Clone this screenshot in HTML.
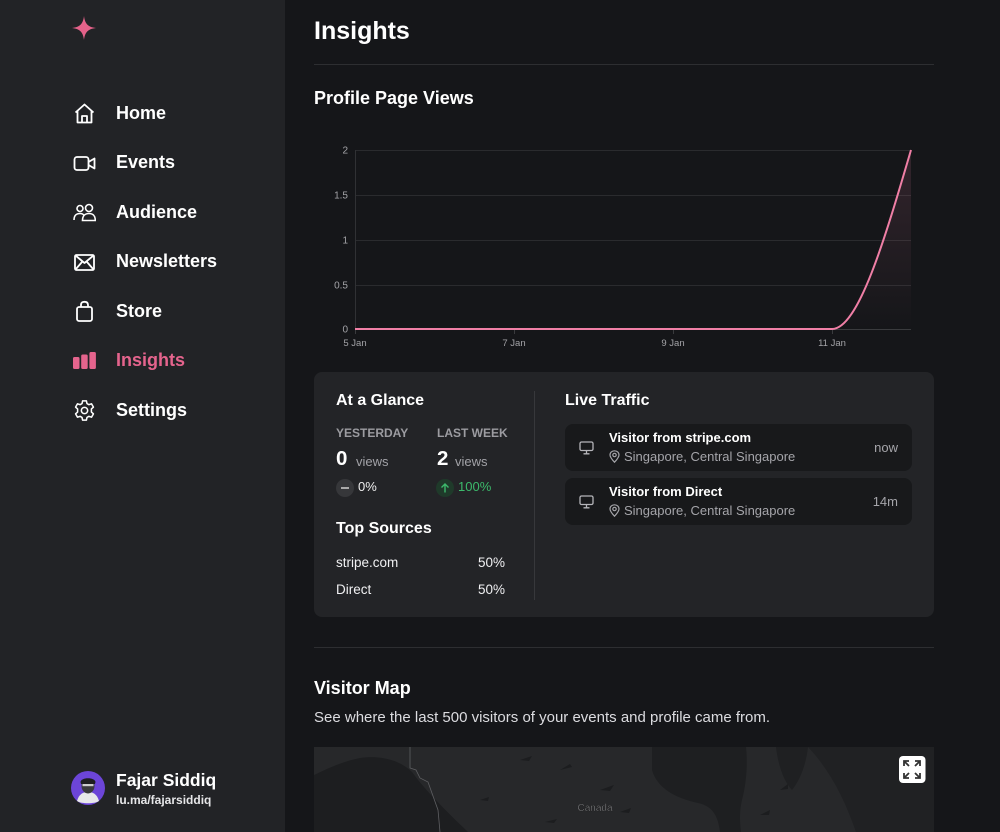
<!DOCTYPE html>
<html><head><meta charset="utf-8">
<style>
*{margin:0;padding:0;box-sizing:border-box}
html,body{width:1000px;height:832px;overflow:hidden;background:#151619;font-family:"Liberation Sans",sans-serif;color:#fff}
.a{position:absolute;white-space:nowrap;line-height:1.2}
#side{position:absolute;left:0;top:0;width:285px;height:832px;background:#222326}
.nav{position:absolute;left:116px;font-size:18px;font-weight:700;color:#fff;line-height:1.2}
.ic{position:absolute;left:73px;width:23px;height:23px}
.b{font-weight:700}
.g{color:#a2a2a7}
</style></head><body>
<div id="side">
  <svg style="position:absolute;left:72px;top:16px" width="24" height="24" viewBox="0 0 24 24"><path d="M12 0 C13 8 16 11 24 12 C16 13 13 16 12 24 C11 16 8 13 0 12 C8 11 11 8 12 0Z" fill="#e5628a"/></svg>

  <svg class="ic" style="top:102px" viewBox="0 0 23 23" fill="none" stroke="#fff" stroke-width="1.8" stroke-linejoin="round"><path d="M2.5 10.5 L11.5 2.5 L20.5 10.5 M4.5 9 V20.5 H18.5 V9 M9 20.5 V14 H14 V20.5"/></svg>
  <div class="nav" style="top:103px">Home</div>

  <svg class="ic" style="top:152px" viewBox="0 0 23 23" fill="none" stroke="#fff" stroke-width="1.8" stroke-linejoin="round"><rect x="1.5" y="5" width="14" height="13" rx="2.5"/><path d="M15.5 10 L21.5 6.5 V16.5 L15.5 13"/></svg>
  <div class="nav" style="top:152px">Events</div>

  <svg class="ic" style="top:201px" viewBox="0 0 23 23" fill="none" stroke="#fff" stroke-width="1.6"><circle cx="7" cy="7.5" r="3"/><circle cx="16" cy="7" r="3.5"/><path d="M1 19 C1 14 4 12.5 7 12.5 C9 12.5 10.5 13.5 11 14.5 M9.5 19.5 C9.5 14.5 12.5 12.5 16 12.5 C19.5 12.5 22.3 14.5 22.3 19.5 Z"/></svg>
  <div class="nav" style="top:202px">Audience</div>

  <svg class="ic" style="top:251px" viewBox="0 0 23 23" fill="none" stroke="#fff" stroke-width="1.8" stroke-linejoin="round"><rect x="2" y="4" width="19" height="15" rx="1.5"/><path d="M2.5 4.5 L11.5 12 L20.5 4.5 M2.5 18.5 L9 11 M20.5 18.5 L14 11"/></svg>
  <div class="nav" style="top:251px">Newsletters</div>

  <svg class="ic" style="top:300px" viewBox="0 0 23 23" fill="none" stroke="#fff" stroke-width="1.8" stroke-linejoin="round"><rect x="4" y="7" width="15" height="14" rx="2"/><path d="M8 7 V5 C8 2.5 9.5 1.8 11.5 1.8 C13.5 1.8 15 2.5 15 5 V7"/></svg>
  <div class="nav" style="top:301px">Store</div>

  <svg class="ic" style="top:350px" viewBox="0 0 23 23" fill="#e5648d"><rect x="0" y="7" width="6.5" height="12" rx="1.5"/><rect x="8.2" y="4.5" width="6.5" height="14.5" rx="1.5"/><rect x="16.4" y="2" width="6.5" height="17" rx="1.5"/></svg>
  <div class="nav" style="top:350px;color:#e5648d">Insights</div>

  <svg class="ic" style="top:399px" viewBox="0 0 24 24" fill="none" stroke="#fff" stroke-width="1.6" stroke-linejoin="round"><path d="M10 2 H14 L14.6 4.8 L16.6 5.9 L19.3 5 L21.3 8.5 L19.2 10.4 V13.6 L21.3 15.5 L19.3 19 L16.6 18.1 L14.6 19.2 L14 22 H10 L9.4 19.2 L7.4 18.1 L4.7 19 L2.7 15.5 L4.8 13.6 V10.4 L2.7 8.5 L4.7 5 L7.4 5.9 L9.4 4.8 Z"/><circle cx="12" cy="12" r="3.3"/></svg>
  <div class="nav" style="top:400px">Settings</div>

  <svg style="position:absolute;left:71px;top:771px" width="34" height="34" viewBox="0 0 34 34"><circle cx="17" cy="17" r="17" fill="#6c45d8"/><path d="M6 30 C8 23 12 21 17 21 C22 21 26 23 28 30 C24 33 10 33 6 30Z" fill="#e8e8ea"/><ellipse cx="17" cy="15" rx="6.5" ry="7.5" fill="#3a3a3c"/><path d="M9.5 11 C10 6 24 6 24.5 11 L24 13 H10Z" fill="#1e1e20"/><rect x="11.5" y="13" width="11" height="2.2" fill="#ccc"/></svg>
  <div class="a b" style="left:116px;top:770px;font-size:17.5px">Fajar Siddiq</div>
  <div class="a b" style="left:116px;top:793px;font-size:12px;color:#e6e6e8">lu.ma/fajarsiddiq</div>
</div>

<div class="a b" style="left:314px;top:16px;font-size:25px">Insights</div>
<div style="position:absolute;left:314px;top:64px;width:620px;height:1px;background:#2d2e31"></div>
<div class="a b" style="left:314px;top:88px;font-size:18px">Profile Page Views</div>

<svg style="position:absolute;left:0;top:0" width="1000" height="360" viewBox="0 0 1000 360">
  <defs><linearGradient id="fg" x1="0" y1="0" x2="0" y2="1"><stop offset="0" stop-color="#f07fa6" stop-opacity="0.14"/><stop offset="1" stop-color="#f07fa6" stop-opacity="0"/></linearGradient></defs>
  <g stroke="#2a2b2e" stroke-width="1">
    <line x1="355" y1="150.5" x2="911" y2="150.5"/>
    <line x1="355" y1="195.5" x2="911" y2="195.5"/>
    <line x1="355" y1="240.5" x2="911" y2="240.5"/>
    <line x1="355" y1="285.5" x2="911" y2="285.5"/>
  </g>
  <line x1="355.5" y1="150" x2="355.5" y2="330" stroke="#303134"/>
  <line x1="355" y1="329.5" x2="911" y2="329.5" stroke="#3a3b3e"/>
  <g stroke="#3a3b3e"><line x1="355.5" y1="329" x2="355.5" y2="334"/><line x1="514.5" y1="329" x2="514.5" y2="334"/><line x1="673.5" y1="329" x2="673.5" y2="334"/><line x1="832.5" y1="329" x2="832.5" y2="334"/></g>
  <g font-family="Liberation Sans" font-size="10" fill="#a3a3a7" text-anchor="end">
    <text x="348" y="153.5">2</text><text x="348" y="198.5">1.5</text><text x="348" y="243.5">1</text><text x="348" y="288.5">0.5</text><text x="348" y="332.5">0</text>
  </g>
  <g font-family="Liberation Sans" font-size="9.5" fill="#a3a3a7" text-anchor="middle">
    <text x="355" y="346">5 Jan</text><text x="514" y="346">7 Jan</text><text x="673" y="346">9 Jan</text><text x="832" y="346">11 Jan</text>
  </g>
  <path d="M355,329 L832,329 C858.3,329 884.7,239.5 911,150 L911,329 Z" fill="url(#fg)"/>
  <path d="M355,329 L832,329 C858.3,329 884.7,239.5 911,150" fill="none" stroke="#f07fa6" stroke-width="2"/>
</svg>

<div style="position:absolute;left:314px;top:372px;width:620px;height:245px;background:#232427;border-radius:8px"></div>
<div style="position:absolute;left:534px;top:391px;width:1px;height:209px;background:#37383b"></div>

<div class="a b" style="left:336px;top:391px;font-size:16px">At a Glance</div>
<div class="a b g" style="left:336px;top:426px;font-size:12px;color:#9c9ca1">YESTERDAY</div>
<div class="a b g" style="left:437px;top:426px;font-size:12px;color:#9c9ca1">LAST WEEK</div>
<div class="a b" style="left:336px;top:447px;font-size:20.5px">0</div>
<div class="a g" style="left:356px;top:454px;font-size:13px">views</div>
<div class="a b" style="left:437px;top:447px;font-size:20.5px">2</div>
<div class="a g" style="left:455px;top:454px;font-size:13px">views</div>
<div style="position:absolute;left:336px;top:479px;width:18px;height:18px;border-radius:50%;background:#36373a"></div>
<div style="position:absolute;left:341px;top:487px;width:8px;height:1.6px;background:#aaa"></div>
<div class="a" style="left:358px;top:479px;font-size:13px;color:#eee">0%</div>
<div style="position:absolute;left:436px;top:479px;width:18px;height:18px;border-radius:50%;background:#1f3a2a"></div>
<svg style="position:absolute;left:439px;top:482px" width="12" height="12" viewBox="0 0 12 12" fill="none" stroke="#3cb96b" stroke-width="1.4"><path d="M6 10.5 V2 M2.5 5.5 L6 2 L9.5 5.5"/></svg>
<div class="a" style="left:458px;top:479px;font-size:13px;color:#3cb96b">100%</div>

<div class="a b" style="left:336px;top:519px;font-size:16px">Top Sources</div>
<div class="a" style="left:336px;top:555px;font-size:13.5px;color:#f0f0f2">stripe.com</div>
<div class="a" style="left:455px;top:555px;width:50px;text-align:right;font-size:13.5px;color:#f0f0f2">50%</div>
<div class="a" style="left:336px;top:582px;font-size:13.5px;color:#f0f0f2">Direct</div>
<div class="a" style="left:455px;top:582px;width:50px;text-align:right;font-size:13.5px;color:#f0f0f2">50%</div>

<div class="a b" style="left:565px;top:391px;font-size:16px">Live Traffic</div>

<div style="position:absolute;left:565px;top:424px;width:347px;height:47px;background:#18191b;border-radius:8px"></div>
<div style="position:absolute;left:565px;top:478px;width:347px;height:47px;background:#18191b;border-radius:8px"></div>

<svg style="position:absolute;left:579px;top:441px" width="15" height="14" viewBox="0 0 15 14" fill="none" stroke="#b5b5ba" stroke-width="1.3"><rect x="1" y="1" width="13" height="8.5" rx="1.5"/><path d="M7.5 9.5 V12.5 M4.5 12.8 H10.5"/></svg>
<svg style="position:absolute;left:579px;top:495px" width="15" height="14" viewBox="0 0 15 14" fill="none" stroke="#b5b5ba" stroke-width="1.3"><rect x="1" y="1" width="13" height="8.5" rx="1.5"/><path d="M7.5 9.5 V12.5 M4.5 12.8 H10.5"/></svg>

<div class="a b" style="left:609px;top:430px;font-size:13px">Visitor from stripe.com</div>
<svg style="position:absolute;left:609px;top:450px" width="11" height="13" viewBox="0 0 11 13" fill="none" stroke="#a5a5aa" stroke-width="1.2"><path d="M5.5 12.2 C2.5 9 1 7 1 5 C1 2.5 3 0.8 5.5 0.8 C8 0.8 10 2.5 10 5 C10 7 8.5 9 5.5 12.2Z"/><circle cx="5.5" cy="5" r="1.7"/></svg>
<div class="a" style="left:624px;top:449px;font-size:13px;color:#a5a5aa">Singapore, Central Singapore</div>
<div class="a" style="left:848px;top:440px;width:50px;text-align:right;font-size:13px;color:#a5a5aa">now</div>

<div class="a b" style="left:609px;top:484px;font-size:13px">Visitor from Direct</div>
<svg style="position:absolute;left:609px;top:504px" width="11" height="13" viewBox="0 0 11 13" fill="none" stroke="#a5a5aa" stroke-width="1.2"><path d="M5.5 12.2 C2.5 9 1 7 1 5 C1 2.5 3 0.8 5.5 0.8 C8 0.8 10 2.5 10 5 C10 7 8.5 9 5.5 12.2Z"/><circle cx="5.5" cy="5" r="1.7"/></svg>
<div class="a" style="left:624px;top:503px;font-size:13px;color:#a5a5aa">Singapore, Central Singapore</div>
<div class="a" style="left:848px;top:494px;width:50px;text-align:right;font-size:13px;color:#a5a5aa">14m</div>

<div style="position:absolute;left:314px;top:647px;width:620px;height:1px;background:#2d2e31"></div>
<div class="a b" style="left:314px;top:678px;font-size:18px">Visitor Map</div>
<div class="a" style="left:314px;top:709px;font-size:15px;color:#dcdce0">See where the last 500 visitors of your events and profile came from.</div>

<svg style="position:absolute;left:314px;top:747px" width="620" height="85" viewBox="314 747 620 85">
  <rect x="314" y="747" width="620" height="85" fill="#27282a"/>
  <path d="M314,775 C325,770 340,762 360,758 C380,755 400,760 412,772 C425,790 445,810 468,832 L314,832Z" fill="#1d1e20"/>
  <path d="M410,747 L410,768 L416,770 L420,778 L428,782 L438,810 L440,832" fill="none" stroke="#5e5f62" stroke-width="0.8"/>
  <path d="M652,747 L746,747 C748,765 746,785 742,800 C739,812 740,824 741,832 L720,832 C718,815 712,806 698,803 C675,798 657,788 652,770Z" fill="#1e1f21"/>
  <path d="M776,747 L808,747 C806,765 800,780 792,790 C784,782 778,765 776,747Z" fill="#1f2022"/>
  <path d="M808,747 L934,747 L934,832 L856,832 C845,800 830,770 808,747Z" fill="#202123"/>
  <g fill="#1c1d1f">
    <path d="M520,760 l12,-4 l-3,5z"/><path d="M560,770 l10,-6 l2,3z"/><path d="M600,790 l14,-5 l-4,6z"/><path d="M480,800 l9,-3 l-1,4z"/><path d="M620,812 l11,-4 l-2,5z"/><path d="M760,815 l10,-5 l-1,5z"/><path d="M780,790 l8,-6 l0,5z"/><path d="M545,822 l12,-3 l-3,4z"/>
  </g>
  <text x="595" y="811" font-family="Liberation Sans" font-size="10" fill="#8a8b8e" text-anchor="middle" stroke="#111" stroke-width="0.3">Canada</text>
  <rect x="899" y="756" width="26.5" height="27" rx="4" fill="#fff"/>
  <g stroke="#333" stroke-width="1.8" fill="none">
    <path d="M904,766 V761 H909 M904,761 L909,766"/>
    <path d="M920,766 V761 H915 M920,761 L915,766"/>
    <path d="M904,773 V778 H909 M904,778 L909,773"/>
    <path d="M920,773 V778 H915 M920,778 L915,773"/>
  </g>
</svg>
</body></html>
